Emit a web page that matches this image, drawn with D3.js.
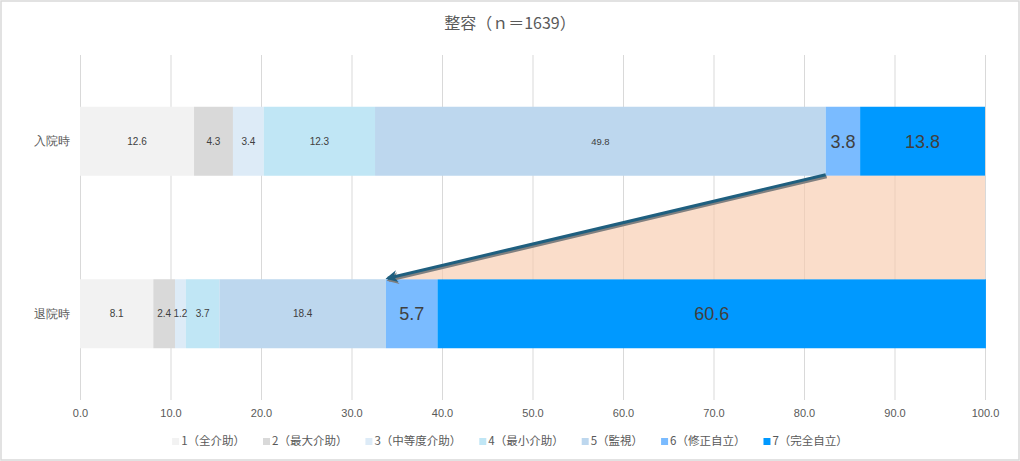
<!DOCTYPE html>
<html>
<head>
<meta charset="utf-8">
<script src="https://cdn.jsdelivr.net/npm/d3@7"></script>
<style>
  body { margin: 0; background: #fff; }
  svg { font-family: "Noto Sans CJK JP", "Noto Sans", sans-serif; }
</style>
</head>
<body>
<svg width="1020" height="461"></svg>
<script>
const categories = ['入院時', '退院時'];
const seriesNames = ['1（全介助）', '2（最大介助）', '3（中等度介助）', '4（最小介助）', '5（監視）', '6（修正自立）', '7（完全自立）'];
const admission = [12.6, 4.3, 3.4, 12.3, 49.8, 3.8, 13.8];
const discharge = [8.1, 2.4, 1.2, 3.7, 18.4, 5.7, 60.6];
const ticks = [0, 10, 20, 30, 40, 50, 60, 70, 80, 90, 100];
const colors = ['#f2f2f2', '#d9d9d9', '#ddebf7', '#c0e6f5', '#bdd7ee', '#7abbff', '#0099ff'];

const margin = {top: 55, right: 35, left: 80, bottom: 61};
const width = 1020, height = 461;
const innerWidth = width - margin.left - margin.right;
const innerHeight = height - margin.top - margin.bottom;

const svg = d3.select('svg');

svg.append('rect')
  .attr('x', 1).attr('y', 1)
  .attr('width', width - 2).attr('height', height - 2)
  .attr('fill', '#fff')
  .attr('stroke', '#d9d9d9')
  .attr('stroke-width', 1.5);

svg.append('text')
  .attr('x', 510).attr('y', 29)
  .attr('text-anchor', 'middle')
  .attr('font-size', 16)
  .attr('fill', '#595959')
  .text('整容（ｎ＝1639）');

const xScale = d3.scaleLinear().domain([0, 100]).range([0, innerWidth]);
const yScale = d3.scaleBand().domain(categories).range([0, innerHeight])
  .paddingInner(0.6).paddingOuter(0.3);

const g = svg.append('g')
  .attr('transform', `translate(${margin.left}, ${margin.top})`);

// grid + x labels
const xAxis = g.append('g')
  .attr('transform', `translate(0, ${innerHeight})`)
  .call(d3.axisBottom(xScale).tickValues(ticks).tickFormat(d3.format('.1f')).tickSize(-innerHeight).tickPadding(9));
xAxis.select('.domain').remove();
xAxis.selectAll('line').attr('stroke', '#d9d9d9');
xAxis.selectAll('text').attr('fill', '#595959').attr('font-size', 11);

// y labels
const yAxis = g.append('g')
  .call(d3.axisLeft(yScale).tickSize(0).tickPadding(10));
yAxis.select('.domain').remove();
yAxis.selectAll('text').attr('fill', '#595959').attr('font-size', 12);

// stacked data
const rows = [admission, discharge].map((vals, i) => {
  let acc = 0;
  return vals.map((v, j) => {
    const d = {cat: categories[i], row: i, idx: j, v: v, x0: acc, x1: acc + v};
    acc += v;
    return d;
  });
});
const segs = rows.flat();

g.selectAll('rect.seg').data(segs)
  .enter().append('rect')
  .attr('class', 'seg')
  .attr('x', d => xScale(d.x0))
  .attr('y', d => yScale(d.cat))
  .attr('width', d => xScale(d.x1) - xScale(d.x0))
  .attr('height', yScale.bandwidth())
  .attr('fill', d => colors[d.idx]);

// highlight band from 6+7 at admission to 6+7 at discharge
const topStart = rows[0][5].x0;
const botStart = rows[1][5].x0;
const yTop = yScale(categories[0]) + yScale.bandwidth();
const yBot = yScale(categories[1]);
g.append('path')
  .attr('d', d3.line()([
    [xScale(topStart), yTop],
    [xScale(100), yTop],
    [xScale(100), yBot],
    [xScale(botStart), yBot]
  ]) + 'Z')
  .attr('fill', '#f8cbad')
  .attr('opacity', 0.65);

// value labels
const labelSize = d => d.idx >= 5 ? 18 : (d.row === 0 && d.idx === 4 ? 9.5 : 10);
g.selectAll('text.val').data(segs)
  .enter().append('text')
  .attr('class', 'val')
  .attr('x', d => (xScale(d.x0) + xScale(d.x1)) / 2)
  .attr('y', d => yScale(d.cat) + yScale.bandwidth() / 2)
  .attr('dy', '0.35em')
  .attr('text-anchor', 'middle')
  .attr('font-size', labelSize)
  .attr('font-family', '"Liberation Sans", Arial, sans-serif')
  .attr('fill', '#404040')
  .text(d => d.v.toFixed(1));

// arrow
const defs = svg.append('defs');
defs.append('marker')
  .attr('id', 'head')
  .attr('viewBox', '0 0 10 10')
  .attr('refX', 8).attr('refY', 5)
  .attr('markerWidth', 5).attr('markerHeight', 4)
  .attr('markerUnits', 'strokeWidth')
  .attr('orient', 'auto')
  .append('path')
  .attr('d', 'M0,0 L10,5 L0,10 L3,5 Z')
  .attr('fill', '#1f5f7f');
defs.append('marker')
  .attr('id', 'headShadow')
  .attr('viewBox', '0 0 10 10')
  .attr('refX', 8).attr('refY', 5)
  .attr('markerWidth', 5).attr('markerHeight', 4)
  .attr('markerUnits', 'strokeWidth')
  .attr('orient', 'auto')
  .append('path')
  .attr('d', 'M0,0 L10,5 L0,10 L3,5 Z')
  .attr('fill', '#7f7f7f');

const ax1 = xScale(topStart), ay1 = yTop - 1;
const ax2 = xScale(botStart) + 2, ay2 = yBot - 1;
g.append('line')
  .attr('x1', ax1 + 1).attr('y1', ay1 + 2)
  .attr('x2', ax2 + 1).attr('y2', ay2 + 2)
  .attr('stroke', '#808080').attr('stroke-width', 3)
  .attr('marker-end', 'url(#headShadow)');
g.append('line')
  .attr('x1', ax1).attr('y1', ay1)
  .attr('x2', ax2).attr('y2', ay2)
  .attr('stroke', '#1f5f7f').attr('stroke-width', 3)
  .attr('marker-end', 'url(#head)');

// legend
const legend = svg.append('g');
const gap = 18;
let lx = 0;
seriesNames.forEach((name, i) => {
  const item = legend.append('g').attr('transform', `translate(${lx}, 0)`);
  item.append('rect')
    .attr('x', 0).attr('y', -7)
    .attr('width', 7).attr('height', 7)
    .attr('fill', colors[i]);
  const t = item.append('text')
    .attr('x', 9).attr('y', 0)
    .attr('font-size', 11.5)
    .attr('fill', '#595959')
    .text(name);
  lx += 9 + t.node().getComputedTextLength() + gap;
});
const legendWidth = lx - gap;
legend.attr('transform', `translate(${510 - legendWidth / 2}, 445)`);
</script>
</body>
</html>
